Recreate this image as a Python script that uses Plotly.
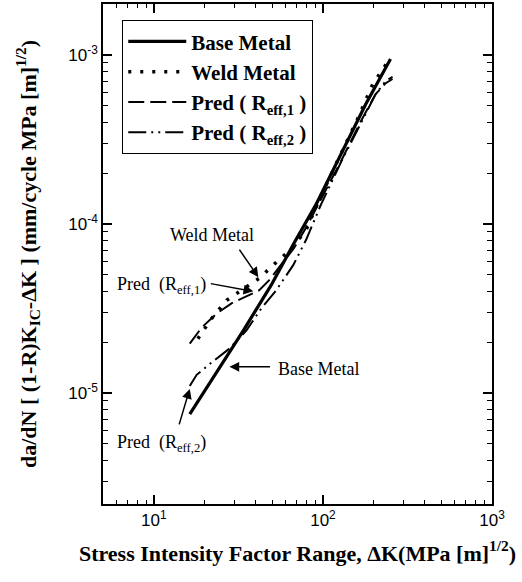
import numpy as np
import plotly.graph_objects as go

# ---- data ----
base_dk = [16.3, 23.5, 33.8, 49.4, 67.5, 90.9, 127.6, 179, 251]
base_dadn = [7.5e-6, 1.32e-5, 2.34e-5, 4.34e-5, 7.7e-5, 1.30e-4, 2.58e-4, 5.1e-4, 9.46e-4]

weld_dk = [18.2, 21.9, 26.9, 35.2, 42.0, 51.5, 64.9, 79.4, 95.0, 123.0, 160.0, 197.0, 244.0]
weld_dadn = [2.09e-5, 2.75e-5, 3.53e-5, 4.22e-5, 4.77e-5, 5.78e-5, 7.1e-5, 9.2e-5, 1.39e-4, 2.40e-4, 4.16e-4, 6.7e-4, 9.2e-4]

reff1_dk = [16.3, 19.2, 23.5, 28.8, 35.2, 42.0, 48.1, 56.6, 67.5, 79.4, 97.3, 127.6, 167.5, 205, 235, 258]
reff1_dadn = [1.96e-5, 2.44e-5, 2.95e-5, 3.39e-5, 3.73e-5, 4.05e-5, 4.65e-5, 5.70e-5, 7.2e-5, 9.5e-5, 1.39e-4, 2.34e-4, 4.05e-4, 5.86e-4, 6.8e-4, 7.2e-4]

reff2_dk = [16.3, 17.9, 21.9, 28.0, 35.2, 43.2, 52.9, 66.7, 79.4, 97.3, 127.6, 167.5, 205, 235, 258]
reff2_dadn = [1.10e-5, 1.28e-5, 1.51e-5, 1.83e-5, 2.34e-5, 3.16e-5, 4.05e-5, 5.70e-5, 8.03e-5, 1.30e-4, 2.31e-4, 3.99e-4, 5.86e-4, 7.0e-4, 7.4e-4]

x_tickvals = [10, 100, 1000]
x_ticktext = ["10<sup>1</sup>", "10<sup>2</sup>", "10<sup>3</sup>"]
y_tickvals = [1e-5, 1e-4, 1e-3]
y_ticktext = ["10<sup>-5</sup>", "10<sup>-4</sup>", "10<sup>-3</sup>"]

x_minor = [m * 10 ** e for e in range(0, 3) for m in range(2, 10)]
y_minor = [m * 10.0 ** e for e in range(-6, -2) for m in range(2, 10)]

SERIF = "Liberation Serif"
SANS = "Liberation Sans"

fig = go.Figure()
fig.add_trace(go.Scatter(x=base_dk, y=base_dadn, mode="lines", name="Base Metal",
                         line=dict(color="black", width=3.2)))
fig.add_trace(go.Scatter(x=weld_dk, y=weld_dadn, mode="lines", name="Weld Metal",
                         line=dict(color="black", width=3.5, dash="3px,9px")))
fig.add_trace(go.Scatter(x=reff1_dk, y=reff1_dadn, mode="lines",
                         name="Pred ( R<sub>eff,1</sub> )",
                         line=dict(color="black", width=2, dash="16px,6px")))
fig.add_trace(go.Scatter(x=reff2_dk, y=reff2_dadn, mode="lines",
                         name="Pred ( R<sub>eff,2</sub> )",
                         line=dict(color="black", width=2, dash="18px,5px,2px,5px,2px,5px")))

afont = dict(family=SERIF, size=18, color="black")
# text labels
labels = [
    ("Weld Metal", 1.341, -4.065),
    ("Pred  (R<sub>eff,1</sub>)", 1.047, -4.363),
    ("Base Metal", 1.976, -4.857),
    ("Pred  (R<sub>eff,2</sub>)", 1.047, -5.298),
]
for t, lx, ly in labels:
    fig.add_annotation(x=lx, y=ly, text=t, showarrow=False, font=afont)
# arrows
arrows = [
    (1.618, -4.315, -20, -29),
    (1.588, -4.399, -44, -8),
    (1.447, -4.845, 42, 0),
    (1.212, -4.976, -11, 37),
]
for ax_, ay_, dx, dy in arrows:
    fig.add_annotation(x=ax_, y=ay_, ax=dx, ay=dy, text="", showarrow=True,
                       arrowhead=2, arrowsize=1.3, arrowwidth=1.5, arrowcolor="black")

axis_common = dict(showgrid=False, zeroline=False, showline=True, linecolor="black",
                   linewidth=1.5, mirror="ticks", ticks="inside", ticklen=9,
                   tickwidth=1.5, tickcolor="black", automargin=False,
                   tickfont=dict(family=SANS, size=17, color="black"))

fig.update_xaxes(type="log", range=[np.log10(5), 3], tickmode="array",
                 tickvals=x_tickvals, ticktext=x_ticktext,
                 minor=dict(tickvals=x_minor, ticks="inside", ticklen=4,
                            tickwidth=1.2, tickcolor="black"),
                 title=dict(text="Stress Intensity Factor Range, ΔK(MPa [m]<sup>1/2</sup>)",
                            font=dict(family=SERIF, size=22, color="black", weight="bold"),
                            standoff=16),
                 **axis_common)
fig.update_yaxes(type="log", range=[-5.657, -2.699], tickmode="array",
                 tickvals=y_tickvals, ticktext=y_ticktext,
                 minor=dict(tickvals=y_minor, ticks="inside", ticklen=5,
                            tickwidth=1.2, tickcolor="black"),
                 title=dict(text="da/dN [ (1-R)K<sub>IC</sub>-ΔK ] (mm/cycle MPa [m]<sup>1/2</sup>)",
                            font=dict(family=SERIF, size=22, color="black", weight="bold"),
                            standoff=26),
                 **axis_common)

fig.update_layout(
    width=522, height=582,
    margin=dict(l=103, r=30, t=4, b=78),
    paper_bgcolor="white", plot_bgcolor="white",
    showlegend=True,
    legend=dict(x=0.049, y=0.968, xanchor="left", yanchor="top",
                bordercolor="black", borderwidth=1.2, bgcolor="white",
                font=dict(family=SERIF, size=21, color="black", weight="bold"),
                itemwidth=58, tracegroupgap=0),
)

fig.write_html("out.html", config={"displayModeBar": False},
               post_script="document.body.style.margin='0';")
